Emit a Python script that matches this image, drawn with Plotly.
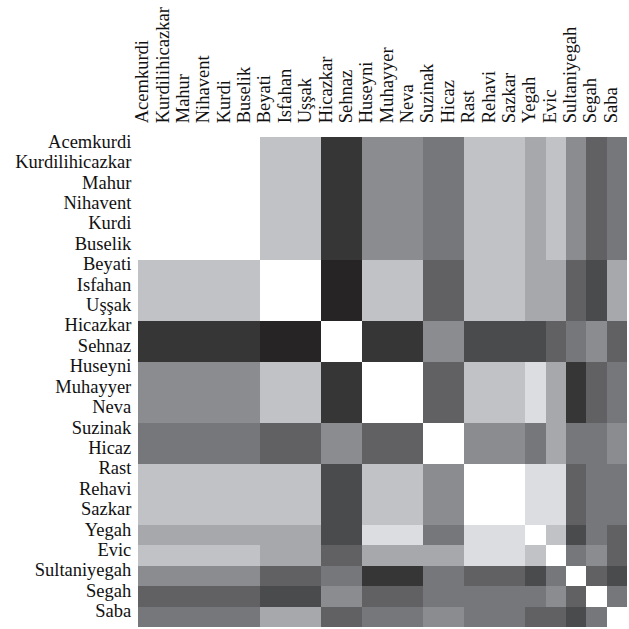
import plotly.graph_objects as go

makams = ["Acemkurdi", "Kurdilihicazkar", "Mahur", "Nihavent", "Kurdi", "Buselik",
          "Beyati", "Isfahan", "Uşşak", "Hicazkar", "Sehnaz", "Huseyni", "Muhayyer",
          "Neva", "Suzinak", "Hicaz", "Rast", "Rehavi", "Sazkar", "Yegah", "Evic",
          "Sultaniyegah", "Segah", "Saba"]

# similarity level of each pair (0 = darkest, 9 = identical / white)
levels = [
    [9,9,9,9,9,9, 7,7,7, 1,1, 5,5,5, 4,4, 7,7,7, 6,7,5,3,4],
    [9,9,9,9,9,9, 7,7,7, 1,1, 5,5,5, 4,4, 7,7,7, 6,7,5,3,4],
    [9,9,9,9,9,9, 7,7,7, 1,1, 5,5,5, 4,4, 7,7,7, 6,7,5,3,4],
    [9,9,9,9,9,9, 7,7,7, 1,1, 5,5,5, 4,4, 7,7,7, 6,7,5,3,4],
    [9,9,9,9,9,9, 7,7,7, 1,1, 5,5,5, 4,4, 7,7,7, 6,7,5,3,4],
    [9,9,9,9,9,9, 7,7,7, 1,1, 5,5,5, 4,4, 7,7,7, 6,7,5,3,4],
    [7,7,7,7,7,7, 9,9,9, 0,0, 7,7,7, 3,3, 7,7,7, 6,6,3,2,6],
    [7,7,7,7,7,7, 9,9,9, 0,0, 7,7,7, 3,3, 7,7,7, 6,6,3,2,6],
    [7,7,7,7,7,7, 9,9,9, 0,0, 7,7,7, 3,3, 7,7,7, 6,6,3,2,6],
    [1,1,1,1,1,1, 0,0,0, 9,9, 1,1,1, 5,5, 2,2,2, 2,3,4,5,3],
    [1,1,1,1,1,1, 0,0,0, 9,9, 1,1,1, 5,5, 2,2,2, 2,3,4,5,3],
    [5,5,5,5,5,5, 7,7,7, 1,1, 9,9,9, 3,3, 7,7,7, 8,6,1,3,4],
    [5,5,5,5,5,5, 7,7,7, 1,1, 9,9,9, 3,3, 7,7,7, 8,6,1,3,4],
    [5,5,5,5,5,5, 7,7,7, 1,1, 9,9,9, 3,3, 7,7,7, 8,6,1,3,4],
    [4,4,4,4,4,4, 3,3,3, 5,5, 3,3,3, 9,9, 5,5,5, 4,6,4,4,5],
    [4,4,4,4,4,4, 3,3,3, 5,5, 3,3,3, 9,9, 5,5,5, 4,6,4,4,5],
    [7,7,7,7,7,7, 7,7,7, 2,2, 7,7,7, 5,5, 9,9,9, 8,8,3,4,4],
    [7,7,7,7,7,7, 7,7,7, 2,2, 7,7,7, 5,5, 9,9,9, 8,8,3,4,4],
    [7,7,7,7,7,7, 7,7,7, 2,2, 7,7,7, 5,5, 9,9,9, 8,8,3,4,4],
    [6,6,6,6,6,6, 6,6,6, 2,2, 8,8,8, 4,4, 8,8,8, 9,7,2,4,3],
    [7,7,7,7,7,7, 6,6,6, 3,3, 6,6,6, 6,6, 8,8,8, 7,9,4,5,3],
    [5,5,5,5,5,5, 3,3,3, 4,4, 1,1,1, 4,4, 3,3,3, 2,4,9,3,2],
    [3,3,3,3,3,3, 2,2,2, 5,5, 3,3,3, 4,4, 4,4,4, 4,5,3,9,4],
    [4,4,4,4,4,4, 6,6,6, 3,3, 4,4,4, 5,5, 4,4,4, 3,3,2,4,9],
]

level_colors = ["#262425", "#363636", "#4a4b4d", "#616163", "#76777b",
                "#8b8c90", "#a7a8ac", "#c1c2c6", "#dcdde0", "#ffffff"]

n = len(level_colors)
colorscale = []
for i, c in enumerate(level_colors):
    colorscale.append([i / n, c])
    colorscale.append([(i + 1) / n, c])

fig = go.Figure(go.Heatmap(
    z=levels, x=makams, y=makams,
    colorscale=colorscale, zmin=-0.5, zmax=n - 0.5,
    showscale=False, xgap=0, ygap=0,
))

font = dict(family="Liberation Serif", size=18.5, color="#111111")
fig.update_layout(
    width=629, height=629,
    margin=dict(l=138, r=2, t=137, b=2),
    paper_bgcolor="white", plot_bgcolor="white",
    font=font,
)
fig.update_xaxes(side="top", tickangle=-90, showgrid=False, zeroline=False,
                 tickmode="array", tickvals=makams, ticktext=makams,
                 ticks="outside", ticklen=9, tickcolor="rgba(0,0,0,0)",
                 ticklabelshift=-6,
                 tickfont=font, showline=False, automargin=False)
fig.update_yaxes(autorange="reversed", showgrid=False, zeroline=False,
                 tickmode="array", tickvals=makams, ticktext=makams,
                 ticks="outside", ticklen=2, tickcolor="rgba(0,0,0,0)",
                 ticklabelshift=6,
                 tickfont=font, showline=False, automargin=False)

fig.write_html("out.html", config={"displayModeBar": False})

with open("out.html", encoding="utf-8") as f:
    html = f.read()
html = html.replace("<head>", "<head><style>html,body{margin:0;padding:0;overflow:hidden}</style>", 1)
with open("out.html", "w", encoding="utf-8") as f:
    f.write(html)
